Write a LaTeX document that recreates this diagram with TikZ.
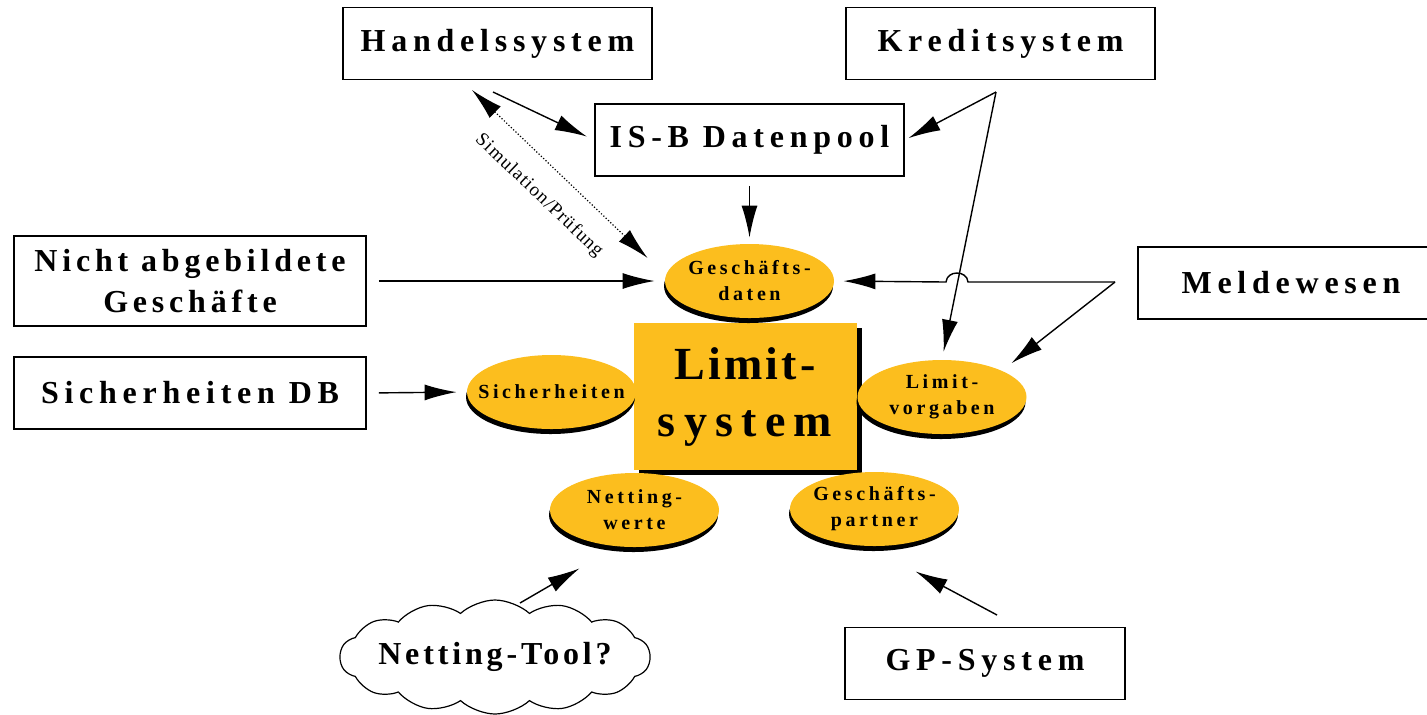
\documentclass[tikz,border=0pt]{standalone}
\usepackage{fontspec}
\setmainfont{Liberation Serif}[LetterSpace=18]
\newfontfamily\simfont{Liberation Serif}[LetterSpace=6]
\usetikzlibrary{positioning,arrows.meta,shapes.geometric,shapes.symbols,shadows}
\definecolor{limitgelb}{RGB}{252,190,30}
\tikzset{>={Latex[length=16pt,width=8pt]},
  kasten/.style={draw,line width=0.9pt,minimum width=154.5pt,minimum height=36pt,inner sep=0pt,align=center,font=\fontsize{16}{20.5}\selectfont\bfseries},
  topf/.style={ellipse,fill=limitgelb,minimum width=84.5pt,minimum height=37pt,inner xsep=-7pt,inner ysep=0pt,align=center,font=\fontsize{10}{13}\selectfont\bfseries,drop shadow={shadow xshift=-0.5pt,shadow yshift=-2.5pt,fill=black,opacity=1}},
  pfeil/.style={->,line width=0.7pt}}

\begin{document}
\begin{tikzpicture}[x=0.5pt,y=-0.5pt]
\useasboundingbox (0,0) rectangle (1427,714);
\node[kasten] (hs) at (497.5,43.5) {Handelssystem};
\node[kasten] (ks) at (1000.5,43.5) {Kreditsystem};
\node[kasten] (isb) at (749.5,140) {IS-B Datenpool};
\node[kasten,minimum width=176pt,minimum height=45pt] (nag) at (190,281) {\addfontfeature{LetterSpace=15}Nicht abgebildete\\\addfontfeature{LetterSpace=15}Geschäfte};
\node[kasten,minimum width=176pt] (sdb) at (190,393) {Sicherheiten DB};
\node[kasten,minimum width=153pt] (mw) at (1291,283) {Meldewesen};
\node[kasten,minimum width=140pt] (gps) at (985,663.5) {GP-System};
\node[cloud,draw,line width=0.6pt,cloud puffs=14,cloud puff arc=85,cloud ignores aspect,minimum width=155pt,minimum height=57pt,inner xsep=-20pt,inner ysep=-5pt,font=\fontsize{16}{20}\selectfont\bfseries\addfontfeature{LetterSpace=12}] (nt) at (495,657) {Netting-Tool?};
\node[fill=limitgelb,minimum width=111.5pt,minimum height=73.5pt,inner sep=0pt,align=center,font=\fontsize{23}{28.5}\selectfont\bfseries,drop shadow={shadow xshift=2.5pt,shadow yshift=-2.5pt,fill=black,opacity=1}] (ls) at (745,396.5) {\addfontfeature{LetterSpace=7}Limit-\\system};
\node[topf] (gd) at (749.5,281) {Geschäfts-\\daten};
\node[topf] (sh) at (551.5,392) {Sicherheiten};
\node[topf] (lv) at (942,397) {Limit-\\vorgaben};
\node[topf] (nw) at (634.5,510) {Netting-\\werte};
\node[topf] (gp) at (874.5,509) {Geschäfts-\\partner};
\coordinate (hsab) at (493,92);
\coordinate (simab) at (472,90);
\coordinate (ksab) at (996,92);
\coordinate (mwab) at (1115,282);
\coordinate (ntab) at (520,603);
\coordinate (gpsab) at (997,615);
\draw[pfeil,shorten >=4pt] (hsab) -- (isb.west);
\draw[<->,line width=0.6pt,densely dotted] (simab) -- node[sloped,below=7pt,font=\simfont\fontsize{9.5}{11}\selectfont] {Simulation/Prüfung} ([xshift=-8.5pt,yshift=11.5pt]gd.west);
\draw[pfeil,shorten >=2pt] (ksab) -- (isb.east);
\draw[pfeil,shorten >=4pt] (ksab) -- (lv.north);
\draw[pfeil,shorten <=4.5pt,shorten >=3pt] (isb.south) -- (gd.north);
\draw[pfeil,shorten <=6pt,shorten >=5pt] (nag.east) -- (gd.west);
\draw[pfeil,shorten >=4.5pt] (mwab) -- (968,282) .. controls +(-1,-12) and +(1,-12) .. (946,282) -- (gd.east);
\draw[pfeil,shorten >=6pt] (mwab) -- (lv.north east);
\draw[pfeil,shorten <=6pt,shorten >=5pt] (sdb.east) -- (sh.west);
\draw[pfeil] (ntab) -- ([xshift=2.5pt,yshift=-16pt]nw.south west);
\draw[pfeil] (gpsab) -- ([xshift=-9.5pt,yshift=-18pt]gp.south east);
\end{tikzpicture}
\end{document}
